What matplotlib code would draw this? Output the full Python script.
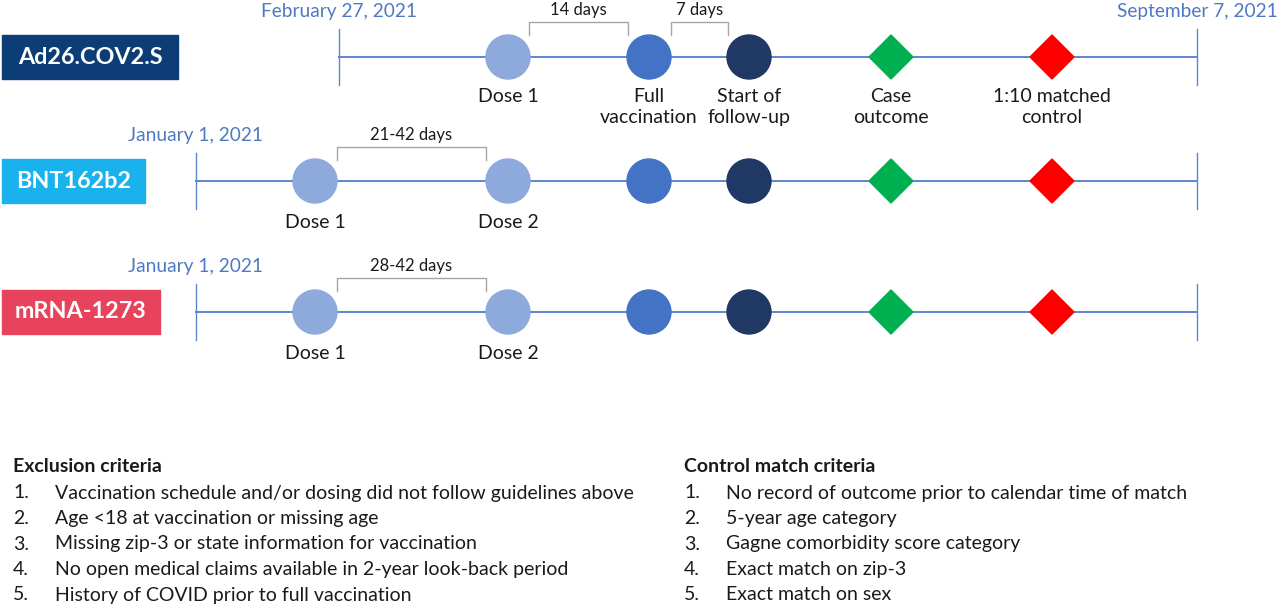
import matplotlib
matplotlib.use("Agg")
import matplotlib.pyplot as plt
from matplotlib.patches import Circle, Polygon, Rectangle

plt.rcParams['font.family'] = ['Lato', 'DejaVu Sans']

# vaccines (rows of the timeline diagram)
vaccines = ['Ad26.COV2.S', 'BNT162b2', 'mRNA-1273']
box_colors = ['#0c3d77', '#19b2ec', '#e8435c']
start_dates = ['February 27, 2021', 'January 1, 2021', 'January 1, 2021']
end_date = 'September 7, 2021'
intervals = ['14 days', '21-42 days', '28-42 days']

# events on each timeline
events = ['Dose 1', 'Dose 2', 'Full\nvaccination', 'Start of\nfollow-up', 'Case\noutcome', '1:10 matched\ncontrol']
event_colors = ['#8eaadc', '#8eaadc', '#4472c4', '#1f3864', '#00b050', '#ff0000']
event_shapes = ['o', 'o', 'o', 'o', 'D', 'D']

excl_title = 'Exclusion criteria'
excl_items = ['Vaccination schedule and/or dosing did not follow guidelines above',
              'Age <18 at vaccination or missing age',
              'Missing zip-3 or state information for vaccination',
              'No open medical claims available in 2-year look-back period',
              'History of COVID prior to full vaccination']
match_title = 'Control match criteria'
match_items = ['No record of outcome prior to calendar time of match',
               '5-year age category',
               'Gagne comorbidity score category',
               'Exact match on zip-3',
               'Exact match on sex']

# layout (pixels)
row_y = [57, 181, 312]
line_x0 = [339, 196, 196]
line_x1 = 1197
box_w = [176, 143, 158]
ev_x = {'Dose 1': [508, 315, 315], 'Dose 2': [None, 508, 508],
        'Full\nvaccination': [649, 649, 649], 'Start of\nfollow-up': [749, 749, 749],
        'Case\noutcome': [891, 891, 891], '1:10 matched\ncontrol': [1052, 1052, 1052]}

line_c = '#5b87d0'
date_c = '#4f79c4'
txt_c = '#1a1a1a'
fs = 14

fig = plt.figure(figsize=(12.8, 6.08), dpi=100)
ax = fig.add_axes([0, 0, 1, 1])
ax.set_xlim(0, 1280)
ax.set_ylim(608, 0)
ax.axis('off')

def bracket(x0, x1, y, label):
    ax.plot([x0, x0, x1, x1], [y + 13, y, y, y + 13], color='#a6a6a6', lw=1)
    ax.text((x0 + x1) / 2, y - 4, label, ha='center', va='bottom', fontsize=12, color=txt_c)

for i, v in enumerate(vaccines):
    y = row_y[i]
    ax.add_patch(Rectangle((2, y - 22), box_w[i], 44, color=box_colors[i], zorder=2))
    ax.text(2 + box_w[i] / 2, y, v, ha='center', va='center', fontsize=16.8,
            fontweight='bold', color='white', zorder=3)
    ax.plot([line_x0[i], line_x1], [y, y], color=line_c, lw=1.4, zorder=1)
    for x in (line_x0[i], line_x1):
        ax.plot([x, x], [y - 28, y + 28], color=line_c, lw=1, zorder=1)
    ax.text(line_x0[i], y - 37, start_dates[i], ha='center', va='bottom', fontsize=13.8, color=date_c)
    if i == 0:
        ax.text(line_x1, y - 37, end_date, ha='center', va='bottom', fontsize=13.8, color=date_c)
    for e, c, s in zip(events, event_colors, event_shapes):
        x = ev_x[e][i]
        if x is None:
            continue
        if s == 'o':
            ax.add_patch(Circle((x, y), 22, color=c, zorder=3))
        else:
            ax.add_patch(Polygon([(x - 22, y), (x, y - 22), (x + 22, y), (x, y + 22)], closed=True, color=c, zorder=3))
        if i == 0 or e in ('Dose 1', 'Dose 2'):
            ax.text(x, y + 31 + (2 if i else 0), e, ha='center', va='top', fontsize=fs,
                    color=txt_c, linespacing=1.3)
    if i == 0:
        bracket(529, 628, 22, intervals[0])
        bracket(671, 728, 22, '7 days')
    else:
        bracket(337, 486, y - 34, intervals[i])

def criteria(x, title, items):
    ax.text(x, 467, title, ha='left', va='center', fontsize=fs, fontweight='bold', color=txt_c)
    for k, t in enumerate(items):
        yy = 493 + k * 25.5
        ax.text(x, yy, f'{k + 1}.', ha='left', va='center', fontsize=fs, color=txt_c)
        ax.text(x + 42, yy, t, ha='left', va='center', fontsize=fs, color=txt_c)

criteria(13, excl_title, excl_items)
criteria(684, match_title, match_items)

fig.savefig('out.png', dpi=100, facecolor='white')
